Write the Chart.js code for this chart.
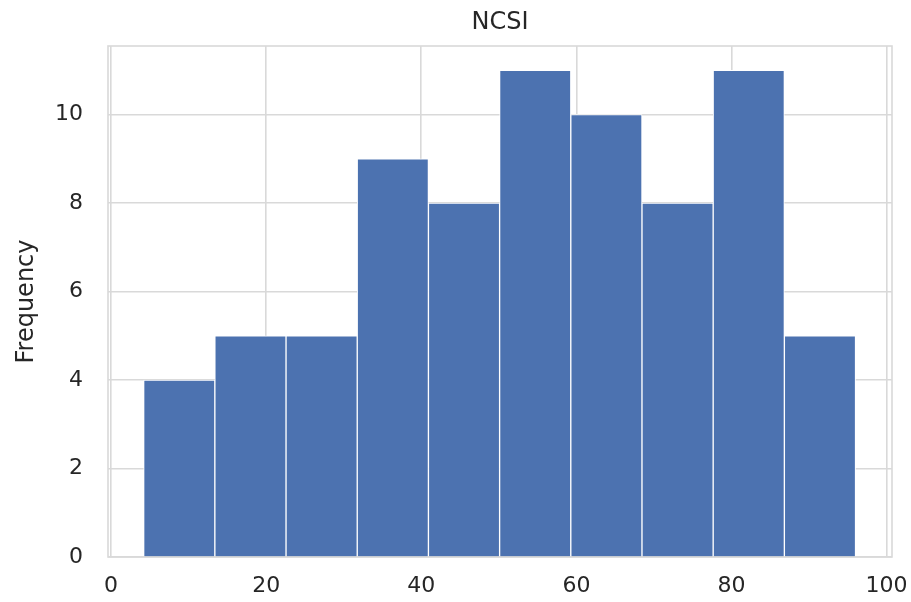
<!DOCTYPE html>
<html>
<head>
<meta charset="utf-8">
<script src="https://cdn.jsdelivr.net/npm/chart.js@4"></script>
<style>
html,body{margin:0;padding:0;background:#fff;}
#wrap{width:911px;height:602px;}
</style>
</head>
<body>
<div id="wrap"><canvas id="c" width="911" height="602"></canvas></div>
<script>
// Histogram of NCSI
const chartTitle = 'NCSI';
const yTitle = 'Frequency';
const binEdges = [4.2, 13.38, 22.56, 31.74, 40.92, 50.1, 59.28, 68.46, 77.64, 86.82, 96.0];
const counts = [4, 5, 5, 9, 8, 11, 10, 8, 11, 5];
const xTicks = [0, 20, 40, 60, 80, 100];
const yTicks = [0, 2, 4, 6, 8, 10];

const points = counts.map((c, i) => ({ x: (binEdges[i] + binEdges[i + 1]) / 2, y: c }));

const gridColor = '#d9d9d9';
const textColor = '#262626';
const fam = "'DejaVu Sans', sans-serif";

const frame = {
  id: 'frame',
  beforeDatasetsDraw(chart) {
    const a = chart.chartArea, ctx = chart.ctx;
    ctx.save();
    ctx.strokeStyle = gridColor;
    ctx.lineWidth = 1.6;
    ctx.strokeRect(a.left, a.top, a.right - a.left, a.bottom - a.top);
    ctx.restore();
  }
};

new Chart(document.getElementById('c'), {
  type: 'bar',
  data: {
    datasets: [{
      data: points,
      backgroundColor: '#4C72B0',
      borderColor: '#ffffff',
      borderWidth: 1,
      barPercentage: 1,
      categoryPercentage: 1
    }]
  },
  options: {
    responsive: false,
    devicePixelRatio: 1,
    animation: false,
    layout: { padding: { left: 0, right: 19, top: 0, bottom: 0 } },
    plugins: {
      legend: { display: false },
      tooltip: { enabled: false },
      title: {
        display: true,
        text: chartTitle,
        fullSize: false,
        color: textColor,
        font: { family: fam, size: 24, weight: 'normal' },
        padding: { top: 8, bottom: 9.2 }
      }
    },
    scales: {
      x: {
        type: 'linear',
        offset: false,
        min: -0.4,
        max: 100.7,
        afterBuildTicks: s => { s.ticks = xTicks.map(v => ({ value: v })); },
        afterFit: s => { s.height = 45; s.paddingLeft = 0; s.paddingRight = 0; },
        grid: { color: gridColor, lineWidth: 1.6, drawTicks: false, offset: false },
        border: { display: false },
        ticks: { color: textColor, font: { family: fam, size: 22 }, padding: 16, maxRotation: 0 }
      },
      y: {
        min: 0,
        max: 11.55,
        afterBuildTicks: s => { s.ticks = yTicks.map(v => ({ value: v })); },
        afterFit: s => { s.width = 108; s.paddingTop = 0; s.paddingBottom = 0; },
        grid: { color: gridColor, lineWidth: 1.6, drawTicks: false },
        border: { display: false },
        ticks: { color: textColor, font: { family: fam, size: 22 }, padding: 25 },
        title: {
          display: true,
          text: yTitle,
          color: textColor,
          font: { family: fam, size: 24 },
          padding: { top: 12, bottom: 0 }
        }
      }
    }
  },
  plugins: [frame]
});
</script>
</body>
</html>
